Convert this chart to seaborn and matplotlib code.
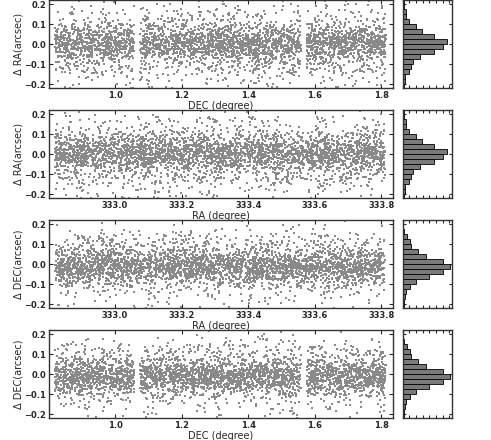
import numpy as np
import pandas as pd
import matplotlib
matplotlib.use("Agg")
import matplotlib.pyplot as plt
import seaborn as sns

# histogram bins (arcsec), lower edges from -0.225 to 0.2, width 0.025
bin_edges = np.arange(-0.225, 0.2251, 0.025)
bin_centers = (bin_edges[:-1] + bin_edges[1:]) / 2

# counts (bottom bin first)
dra_counts = [13, 15, 20, 45, 62, 75, 133, 238, 305, 335, 233, 145, 100, 45, 28, 23, 13, 8]
ddec_counts = [8, 10, 15, 25, 55, 100, 200, 302, 355, 305, 175, 115, 62, 52, 32, 13, 5, 2]

# sky coverage (degrees); DEC has two gaps
dec_segments = [(0.82, 1.057), (1.075, 1.558), (1.575, 1.813)]
ra_segments = [(332.82, 333.81)]

dec_ticks = [1.0, 1.2, 1.4, 1.6, 1.8]
ra_ticks = [333.0, 333.2, 333.4, 333.6, 333.8]


def cloud(counts, segments, seed, per_count=2.0):
    # individual points can't be read; spread each bin's count over its bin
    # and over the covered sky range
    rng = np.random.default_rng(seed)
    y = np.concatenate([rng.uniform(lo, lo + 0.025, int(n * per_count))
                        for lo, n in zip(bin_edges[:-1], counts)])
    lens = np.array([b - a for a, b in segments])
    seg = rng.choice(len(segments), size=len(y), p=lens / lens.sum())
    x = np.array([rng.uniform(*segments[s]) for s in seg])
    return pd.DataFrame({"x": x, "y": y})


sns.set_style("ticks")
plt.rcParams.update({
    "xtick.direction": "in", "ytick.direction": "in",
    "xtick.top": True, "ytick.right": True,
    "xtick.major.size": 3, "ytick.major.size": 3,
    "axes.linewidth": 1.0, "axes.edgecolor": "#333333",
})
plt.rcParams["font.family"] = ["DejaVu Sans"]

fig = plt.figure(figsize=(4.91, 4.40), dpi=100)

panels = [
    (dra_counts, dec_segments, dec_ticks, "DEC (degree)", "Δ RA(arcsec)", 0.80),
    (dra_counts, ra_segments, ra_ticks, "RA (degree)", "Δ RA(arcsec)", 0.55),
    (ddec_counts, ra_segments, ra_ticks, "RA (degree)", "Δ DEC(arcsec)", 0.30),
    (ddec_counts, dec_segments, dec_ticks, "DEC (degree)", "Δ DEC(arcsec)", 0.05),
]

for i, (counts, segs, ticks, xlab, ylab, bottom) in enumerate(panels):
    ax = fig.add_axes([0.10, bottom, 0.70, 0.20])
    df = cloud(counts, segs, seed=i + 1)
    sns.scatterplot(data=df, x="x", y="y", s=1.6, color="#8a8a8a", linewidth=0,
                    marker="s", ax=ax, legend=False)
    lo = segs[0][0] - 0.018
    ax.set_xlim(lo, lo + 1.032)
    ax.set_ylim(-0.22, 0.22)
    ax.set_xticks(ticks)
    ax.set_yticks([-0.2, -0.1, 0.0, 0.1, 0.2])
    ax.set_xticklabels([f"{t:.1f}" for t in ticks], fontsize=6, fontweight="bold")
    ax.set_yticklabels(["\u22120.2", "\u22120.1", "0.0", "0.1", "0.2"], fontsize=6, fontweight="bold")
    ax.tick_params(pad=2)
    ax.set_xlabel(xlab, fontsize=7, labelpad=1)
    ax.set_ylabel(ylab, fontsize=7, labelpad=1)

    hist_df = pd.DataFrame({"d": bin_centers, "n": counts})
    axh = fig.add_axes([0.82, bottom, 0.10, 0.20])
    sns.histplot(data=hist_df, y="d", weights="n", binwidth=0.025, binrange=(-0.225, 0.225),
                 color="#7a7a7a", edgecolor="black", linewidth=0.6, alpha=1, ax=axh)
    axh.set_ylim(-0.22, 0.22)
    axh.set_xlim(0, 367)
    axh.set_xticks(np.arange(0, 367, 50))
    axh.set_yticks([-0.2, -0.1, 0.0, 0.1, 0.2])
    axh.tick_params(labelbottom=False, labelleft=False, length=2)
    axh.set_xlabel("")
    axh.set_ylabel("")

fig.savefig("out.png", dpi=100)
